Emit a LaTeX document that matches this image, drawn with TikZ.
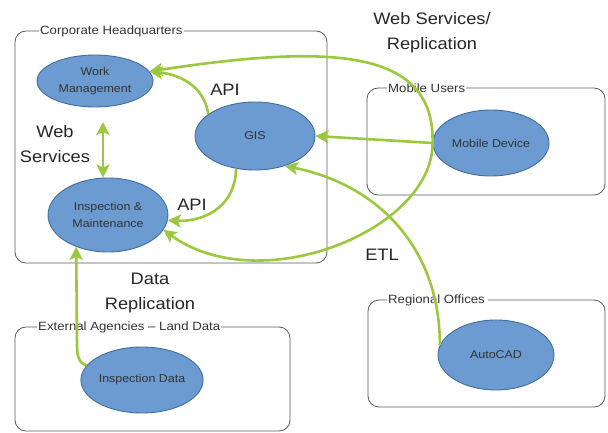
\documentclass[tikz,border=0pt]{standalone}
\usepackage{fontspec}
\setmainfont{Liberation Sans}[FakeStretch=1.1]
\usetikzlibrary{arrows.meta,shapes.geometric}
\definecolor{grn}{HTML}{9BC83C}
\definecolor{ellfill}{HTML}{6B9BD1}
\definecolor{elldraw}{HTML}{3F6D9E}
\definecolor{boxline}{HTML}{5A5A5A}
\begin{document}
\begin{tikzpicture}[x=1pt,y=-1pt,
 ell/.style={ellipse, draw=elldraw, line width=0.9pt, fill=ellfill, inner sep=0pt, align=center, font=\fontsize{11.3}{17.5}\selectfont, text=black!80},
 grp/.style={draw=boxline, line width=0.8pt, rounded corners=11pt},
 grplabel/.style={fill=white, inner sep=1pt, anchor=west, font=\fontsize{12}{14}\selectfont, text=black!80},
 big/.style={font=\fontsize{16.6}{25}\selectfont, align=center, text=black!85},
 conn/.style={draw=grn, line width=2.6pt, -{Stealth[length=13pt,width=13pt,inset=3pt]}},
 conn2/.style={draw=grn, line width=2.6pt, {Stealth[length=13pt,width=13pt,inset=3pt]}-{Stealth[length=13pt,width=13pt,inset=3pt]}},
]
\useasboundingbox (0,0) rectangle (608,433);
\fill[white] (0,0) rectangle (608,433);

% group boxes
\draw[grp] (15,31) rectangle (327,263);
\draw[grp] (367,88) rectangle (605,195);
\draw[grp] (368,300) rectangle (605,407);
\draw[grp] (15,327) rectangle (290,431);

\node[grplabel] (lhq) at (39,31) {Corporate Headquarters};
\node[grplabel] (lmu) at (387,88) {Mobile Users};
\node[grplabel] (lro) at (387,300) {Regional Offices\,};
\node[grplabel] (lea) at (37,327) {External Agencies – Land Data};

% ellipses
\node[ell, minimum width=116pt, minimum height=52pt] (WM) at (95,81) {Work\\Management};
\node[ell, minimum width=120pt, minimum height=68pt] (GIS) at (255,136) {GIS};
\node[ell, minimum width=120pt, minimum height=74pt] (IM) at (108,215) {Inspection \&\\Maintenance};
\node[ell, minimum width=116pt, minimum height=66pt] (MD) at (491,143) {Mobile Device};
\node[ell, minimum width=116pt, minimum height=70pt] (AC) at (496,355) {AutoCAD};
\node[ell, minimum width=116pt, minimum height=66pt] (ID) at (142,380) {Inspection Data};

% big labels
\node[big] (tws) at (432,33) {Web Services/\\Replication};
\node[big] (tapi1) at (225,90) {API};
\node[big] (tapi2) at (192,205) {API};
\node[big] (tweb) at (55,144) {Web\\Services};
\node[big] (tdr) at (150,293) {Data\\Replication};
\node[big] (tetl) at (382,255) {ETL};

% connectors
\coordinate (wstop) at (103,122);
\coordinate (idbend) at (77,345);
\draw[conn] (MD.west) -- (GIS.east);
\draw[conn] (MD.west) .. controls (435,48) and (330,44) .. (WM.10);
\draw[conn] (MD.west) .. controls (433,230) and (260,300) .. (IM.-15);
\draw[conn] (GIS.155) .. controls (205,90) and (185,75) .. (WM.10);
\draw[conn] (GIS.-120) .. controls (235,210) and (200,222) .. (IM.-5);
\draw[conn2] (wstop) -- (wstop |- IM.north);
\draw[conn] (ID.165) .. controls (79,364) and (77,356) .. (idbend) -- (IM.225);
\draw[conn] (AC.170) .. controls (440,250) and (380,185) .. (GIS.-45);
\end{tikzpicture}
\end{document}
